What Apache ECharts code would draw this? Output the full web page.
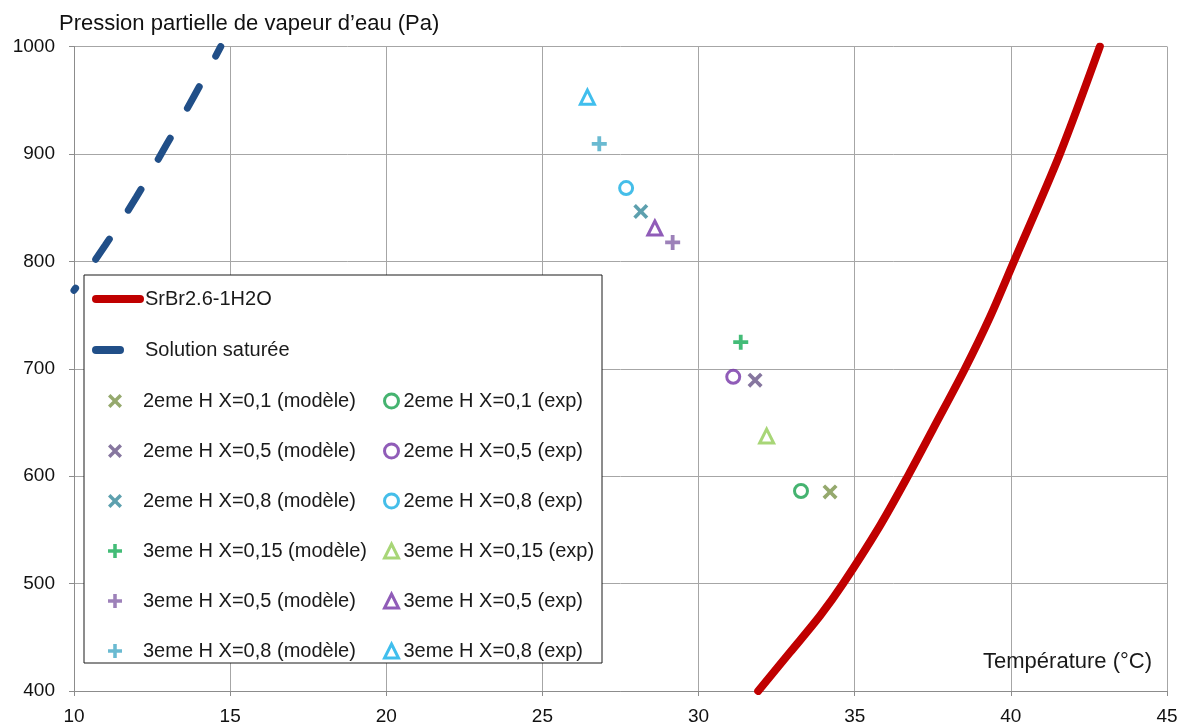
<!DOCTYPE html>
<html>
<head>
<meta charset="utf-8">
<script src="https://cdn.jsdelivr.net/npm/echarts@6/dist/echarts.min.js"></script>
<style>
html,body{margin:0;padding:0;background:#fff;}
#c{width:1184px;height:726px;}
</style>
</head>
<body>
<div id="c"></div>
<script>
// ---- data ----
var xTicks = [10, 15, 20, 25, 30, 35, 40, 45];
var yTicks = [400, 500, 600, 700, 800, 900, 1000];

var srbrName = 'SrBr2.6-1H2O';
var srbrCurve = [[31.91, 400], [32.93, 436], [33.89, 470], [34.63, 500], [35.81, 554], [36.72, 601],
                 [37.51, 644], [38.53, 700], [39.33, 748], [40.1, 800], [41.57, 900], [42.85, 1000]];

var solName = 'Solution saturée';
var solCurve = [[10, 773], [11, 815], [12, 860], [12.95, 908], [13.83, 953], [14.7, 1000]];

var modeleNames = ['2eme H X=0,1 (modèle)', '2eme H X=0,5 (modèle)', '2eme H X=0,8 (modèle)',
                   '3eme H X=0,15 (modèle)', '3eme H X=0,5 (modèle)', '3eme H X=0,8 (modèle)'];
var modelePoints = [[34.21, 585.3], [31.81, 689.4], [28.15, 846.4],
                    [31.35, 724.7], [29.17, 817.6], [26.82, 909.4]];

var expNames = ['2eme H X=0,1 (exp)', '2eme H X=0,5 (exp)', '2eme H X=0,8 (exp)',
                '3eme H X=0,15 (exp)', '3eme H X=0,5 (exp)', '3eme H X=0,8 (exp)'];
var expPoints = [[33.28, 586.2], [31.11, 692.5], [27.68, 868.2],
                 [32.18, 637.3], [28.60, 831.0], [26.44, 952.8]];

// ---- styles ----
var FONT = "'Liberation Sans', Arial, sans-serif";
var modeleColors = ['#7a9448', '#685487', '#35889a', '#14ab55', '#8462a8', '#45a9c6'];
var expColors = ['#17a04c', '#7433a6', '#17aee4', '#92cc55', '#7433a6', '#10aee8'];
var XPATH = 'path://M0,2.6L2.6,0L7.5,4.9L12.4,0L15,2.6L10.1,7.5L15,12.4L12.4,15L7.5,10.1L2.6,15L0,12.4L4.9,7.5Z';
var PLUSPATH = 'path://M5.6,0H9.4V5.6H15V9.4H9.4V15H5.6V9.4H0V5.6H5.6Z';

var series = [];
series.push({
  name: srbrName, type: 'line', data: srbrCurve, smooth: 0.3,
  symbol: 'none', symbolSize: 0,
  lineStyle: {color: '#c00000', width: 8, cap: 'round'}, itemStyle: {color: '#c00000'}, z: 3
});
series.push({
  name: solName, type: 'line', data: solCurve, smooth: true,
  symbol: 'none', symbolSize: 0,
  lineStyle: {color: '#214f88', width: 7, type: [24, 35], dashOffset: 21, cap: 'round'},
  itemStyle: {color: '#214f88'}, z: 3
});
for (var i = 0; i < modeleNames.length; i++) {
  series.push({
    name: modeleNames[i], type: 'scatter', data: [modelePoints[i]],
    symbol: i < 3 ? XPATH : PLUSPATH, symbolSize: 15,
    itemStyle: {color: modeleColors[i]}, z: 5
  });
}
for (var j = 0; j < expNames.length; j++) {
  series.push({
    name: expNames[j], type: 'scatter', data: [expPoints[j]],
    symbol: j < 3 ? 'circle' : 'triangle', symbolSize: j < 3 ? 13 : 14,
    itemStyle: {color: '#ffffff', borderColor: expColors[j], borderWidth: 3}, z: 5
  });
}

var legendText = {fontFamily: FONT, fontSize: 20, color: '#1a1a1a', lineHeight: 20};

var option = {
  animation: false,
  backgroundColor: '#fff',
  textStyle: {fontFamily: FONT},
  title: {
    text: 'Pression partielle de vapeur d\u2019eau (Pa)', left: 54, top: 8,
    textStyle: {fontFamily: FONT, fontSize: 22, fontWeight: 'normal', color: '#111'}
  },
  grid: {left: 74, right: 17, top: 46.5, bottom: 34, containLabel: false},
  xAxis: {
    type: 'value', min: 10, max: 45, interval: 5,
    axisLine: {show: true, lineStyle: {color: '#8c8c8c', width: 1}},
    axisTick: {show: true, length: 5, lineStyle: {color: '#8c8c8c'}},
    splitLine: {show: true, lineStyle: {color: '#a6a6a6', width: 1}},
    axisLabel: {fontFamily: FONT, fontSize: 19, color: '#111', margin: 16,
      formatter: function (v) { return xTicks.indexOf(v) >= 0 ? String(v) : ''; }}
  },
  yAxis: {
    type: 'value', min: 400, max: 1000, interval: 100,
    axisLine: {show: true, lineStyle: {color: '#8c8c8c', width: 1}},
    axisTick: {show: true, length: 5, lineStyle: {color: '#8c8c8c'}},
    splitLine: {show: true, lineStyle: {color: '#a6a6a6', width: 1}},
    axisLabel: {fontFamily: FONT, fontSize: 19, color: '#111', margin: 19,
      formatter: function (v) { return yTicks.indexOf(v) >= 0 ? String(v) : ''; }}
  },
  graphic: [
    {type: 'rect', z: 50, shape: {x: 84, y: 275, width: 518, height: 388},
     style: {fill: '#fff', stroke: '#1a1a1a', lineWidth: 1}},
    {type: 'text', z: 50, right: 32, top: 651,
     style: {text: 'Température (°C)', fontFamily: FONT, fontSize: 22, fill: '#1a1a1a'}}
  ],
  legend: [
    {data: [srbrName, solName], orient: 'vertical', left: 92, top: 289, padding: 0,
     itemWidth: 44, itemHeight: 14, itemGap: 31, z: 60,
     itemStyle: {opacity: 0},
     lineStyle: {width: 8, cap: 'round', dashOffset: 0}, textStyle: legendText},
    {data: modeleNames, orient: 'vertical', left: 108, top: 391, padding: 0,
     itemWidth: 14, itemHeight: 14, itemGap: 30, z: 60,
     textStyle: Object.assign({}, legendText, {padding: [0, 0, 0, 16]})},
    {data: expNames, orient: 'vertical', left: 383, top: 391, padding: 0,
     itemWidth: 14, itemHeight: 14, itemGap: 30, z: 60,
     itemStyle: {borderWidth: 3},
     textStyle: legendText}
  ],
  series: series
};

var chart = echarts.init(document.getElementById('c'), null, {renderer: 'canvas'});
chart.setOption(option);
</script>
</body>
</html>
